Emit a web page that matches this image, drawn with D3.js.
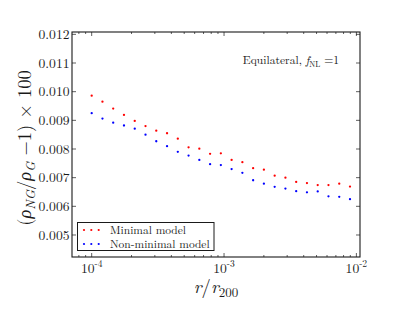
<!DOCTYPE html>
<html><head><meta charset="utf-8">
<script src="https://d3js.org/d3.v7.min.js"></script>
<style>
body{margin:0;background:#fff}
svg{font-family:'Latin Modern Roman','Liberation Serif',serif}
</style></head>
<body>
<svg width=415 height=314></svg>
<script>
// r / r200 sample points
const rVals = [1.000e-4,1.206e-4,1.454e-4,1.754e-4,2.115e-4,2.551e-4,3.076e-4,3.710e-4,
  4.474e-4,5.395e-4,6.506e-4,7.846e-4,9.462e-4,1.141e-3,1.376e-3,1.659e-3,2.001e-3,
  2.413e-3,2.910e-3,3.509e-3,4.232e-3,5.103e-3,6.154e-3,7.422e-3,8.950e-3];
const minimal = [0.00986,0.00965,0.00941,0.00919,0.00898,0.00880,0.00864,0.00855,0.00836,
  0.00806,0.00801,0.00783,0.00785,0.00762,0.00754,0.00733,0.00728,0.00707,0.00700,
  0.00685,0.00681,0.00674,0.00674,0.00679,0.00669];
const nonMinimal = [0.00925,0.00906,0.00892,0.00882,0.00871,0.00850,0.00827,0.00810,0.00790,
  0.00777,0.00762,0.00747,0.00744,0.00730,0.00717,0.00691,0.00679,0.00668,0.00662,
  0.00653,0.00649,0.00652,0.00635,0.00633,0.00625];
const yTicks = [0.005,0.006,0.007,0.008,0.009,0.010,0.011,0.012];
const xTicks = [1e-4,1e-3,1e-2];
const xTickExp = ["-4","-3","-2"];
const series = [
  {name:"Minimal model", values:minimal, color:"#ff0000"},
  {name:"Non-minimal model", values:nonMinimal, color:"#0000ff"}
];

const svg = d3.select("svg");
const mLeft = 72, mRight = 360, mTop = 32, mBottom = 257;
const ink = "#1a1a1a";

const x = d3.scaleLog().domain([7.1e-5, 1.065e-2]).range([mLeft, mRight]);
const y = d3.scaleLinear().domain([0.004232, 0.012082]).range([mBottom, mTop]);

// minor ticks for the log axis
const minor = [];
[1e-5,1e-4,1e-3,1e-2].forEach(d => {
  for (let k = 2; k <= 9; k++) {
    const v = d * k;
    if (v > x.domain()[0] && v < x.domain()[1]) minor.push(v);
  }
});

// data points
series.forEach(s => {
  svg.append("g").selectAll("circle")
    .data(rVals.map((r, i) => [r, s.values[i]]))
    .join("circle")
      .attr("cx", d => x(d[0]))
      .attr("cy", d => y(d[1]))
      .attr("r", 1.15)
      .attr("fill", s.color);
});

// ticks pointing inward on all four sides
const tk = svg.append("g").attr("stroke", ink).attr("stroke-width", 0.7);
xTicks.forEach(v => {
  tk.append("line").attr("x1", x(v)).attr("x2", x(v)).attr("y1", mBottom).attr("y2", mBottom - 4);
  tk.append("line").attr("x1", x(v)).attr("x2", x(v)).attr("y1", mTop).attr("y2", mTop + 4);
});
minor.forEach(v => {
  tk.append("line").attr("x1", x(v)).attr("x2", x(v)).attr("y1", mBottom).attr("y2", mBottom - 2);
  tk.append("line").attr("x1", x(v)).attr("x2", x(v)).attr("y1", mTop).attr("y2", mTop + 2);
});
yTicks.forEach(v => {
  tk.append("line").attr("x1", mLeft).attr("x2", mLeft + 4).attr("y1", y(v)).attr("y2", y(v));
  tk.append("line").attr("x1", mRight).attr("x2", mRight - 4).attr("y1", y(v)).attr("y2", y(v));
});

// frame
svg.append("rect")
  .attr("x", mLeft).attr("y", mTop)
  .attr("width", mRight - mLeft).attr("height", mBottom - mTop)
  .attr("fill", "none").attr("stroke", ink).attr("stroke-width", 1.1);

// y tick labels
svg.append("g").selectAll("text")
  .data(yTicks)
  .join("text")
    .attr("x", mLeft - 2.5)
    .attr("y", d => y(d))
    .attr("dy", "0.34em")
    .attr("text-anchor", "end")
    .attr("font-size", 13.6)
    .attr("fill", ink)
    .text(d => d3.format(".3f")(d));

// x tick labels 10^n
const xl = svg.append("g").selectAll("text")
  .data(xTicks)
  .join("text")
    .attr("x", d => x(d))
    .attr("y", 273)
    .attr("text-anchor", "middle")
    .attr("font-size", 13.6)
    .attr("fill", ink);
xl.append("tspan").text("10");
xl.append("tspan").attr("dy", -6).attr("font-size", 9.5).text((d, i) => xTickExp[i]);

// x label
const xt = svg.append("text")
  .attr("x", (mLeft + mRight) / 2)
  .attr("y", 293)
  .attr("text-anchor", "middle")
  .attr("font-size", 18.5)
  .attr("fill", ink);
xt.append("tspan").attr("font-style", "italic").text("r");
xt.append("tspan").text("/");
xt.append("tspan").attr("font-style", "italic").text("r");
xt.append("tspan").attr("dy", 4).attr("font-size", 13).text("200");

// y label
const yt = svg.append("text")
  .attr("transform", "translate(31,148) rotate(-90)")
  .attr("text-anchor", "middle")
  .attr("font-size", 18.5)
  .attr("fill", ink);
yt.append("tspan").text("(");
yt.append("tspan").attr("font-style", "italic").text("ρ");
yt.append("tspan").attr("dy", 4).attr("font-size", 13).attr("font-style", "italic").text("NG");
yt.append("tspan").attr("dy", -4).text("/");
yt.append("tspan").attr("font-style", "italic").text("ρ");
yt.append("tspan").attr("dy", 4).attr("font-size", 13).attr("font-style", "italic").text("G");
yt.append("tspan").attr("dy", -4).text(" −1) × 100");

// annotation
const ann = svg.append("text")
  .attr("x", 339).attr("y", 64)
  .attr("text-anchor", "end")
  .attr("font-size", 11.6)
  .attr("fill", ink);
ann.append("tspan").text("Equilateral, ");
ann.append("tspan").attr("font-style", "italic").text("f");
ann.append("tspan").attr("dy", 2.5).attr("font-size", 8).text("NL");
ann.append("tspan").attr("dy", -2.5).text(" =1");

// legend
const lg = svg.append("g");
lg.append("rect")
  .attr("x", 77.5).attr("y", 222.5).attr("width", 136.5).attr("height", 28)
  .attr("fill", "#fff").attr("stroke", ink).attr("stroke-width", 1);
series.forEach((s, i) => {
  const yy = 230 + i * 14;
  [84, 91.3, 98.7].forEach(xx => {
    lg.append("circle").attr("cx", xx).attr("cy", yy).attr("r", 1.1).attr("fill", s.color);
  });
  lg.append("text")
    .attr("x", 110).attr("y", yy).attr("dy", "0.33em")
    .attr("font-size", 11.5).attr("fill", ink).text(s.name);
});
</script>
</body></html>
